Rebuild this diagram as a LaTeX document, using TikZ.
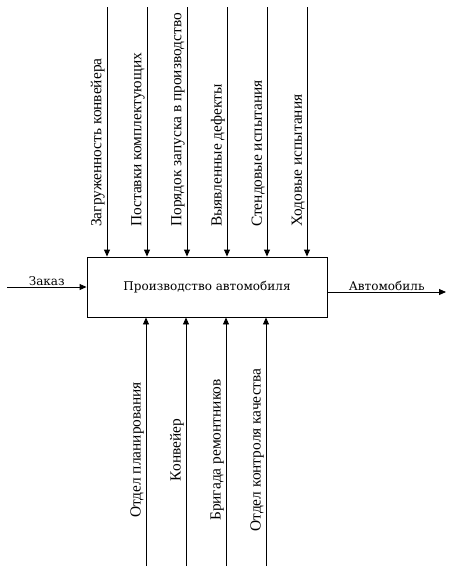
\documentclass[tikz,border=0pt]{standalone}
\usepackage{fontspec}
\setmainfont{Liberation Serif}
\newfontfamily\boxfont{DejaVu Serif}
\usetikzlibrary{arrows.meta,positioning}

\begin{document}
\begin{tikzpicture}[
	x=1pt, y=-1pt,
	every node/.style={font=\fontsize{15.4}{18}\selectfont},
	func/.style={rectangle, draw, line width=0.9pt, minimum width=240pt, minimum height=60pt, font=\boxfont\fontsize{12}{14}\selectfont},
	flow/.style={line width=0.9pt, -{Triangle[length=7pt,width=6pt]}},
	vlabel/.style={rotate=90, inner sep=1pt},
	hlabel/.style={inner sep=1pt, font=\boxfont\fontsize{12}{14}\selectfont}
	]
\useasboundingbox (0,0) rectangle (456,576);

% Function block
\node [func] (prod) at (207,287) {Производство автомобиля};

% Input and output
\coordinate (order) at (7,287);
\coordinate (car) at (446,292);
\draw[flow] (order) -- node [hlabel, above] {Заказ} (prod.west);
\draw[flow] (car -| prod.east) -- node [hlabel, above] {Автомобиль} (car);

% Controls
\coordinate (ctrl1) at (107,7);
\coordinate (ctrl2) at (147,7);
\coordinate (ctrl3) at (187,7);
\coordinate (ctrl4) at (227,7);
\coordinate (ctrl5) at (267,7);
\coordinate (ctrl6) at (307,7);

\draw[flow] (ctrl1) -- (ctrl1 |- prod.north);
\draw[flow] (ctrl2) -- (ctrl2 |- prod.north);
\draw[flow] (ctrl3) -- (ctrl3 |- prod.north);
\draw[flow] (ctrl4) -- (ctrl4 |- prod.north);
\draw[flow] (ctrl5) -- (ctrl5 |- prod.north);
\draw[flow] (ctrl6) -- (ctrl6 |- prod.north);

\node [vlabel, anchor=south west] (load) at (106,228) {Загруженность конвейера};
\node [vlabel, anchor=south west] (supply) at (146,228) {Поставки комплектующих};
\node [vlabel, anchor=south west] (launch) at (186,228) {Порядок запуска в производство};
\node [vlabel, anchor=south west] (defects) at (226,228) {Выявленные дефекты};
\node [vlabel, anchor=south west] (bench) at (266,228) {Стендовые испытания};
\node [vlabel, anchor=south west] (road) at (306,228) {Ходовые испытания};

% Mechanisms
\coordinate (mech1) at (146,566);
\coordinate (mech2) at (186,566);
\coordinate (mech3) at (226,566);
\coordinate (mech4) at (266,566);

\draw[flow] (mech1) -- (mech1 |- prod.south);
\draw[flow] (mech2) -- (mech2 |- prod.south);
\draw[flow] (mech3) -- (mech3 |- prod.south);
\draw[flow] (mech4) -- (mech4 |- prod.south);

\node [vlabel, anchor=south] (planning) at (145,450) {Отдел планирования};
\node [vlabel, anchor=south] (conveyor) at (185,450) {Конвейер};
\node [vlabel, anchor=south] (repair) at (225,450) {Бригада ремонтников};
\node [vlabel, anchor=south] (quality) at (265,450) {Отдел контроля качества};

\end{tikzpicture}
\end{document}
